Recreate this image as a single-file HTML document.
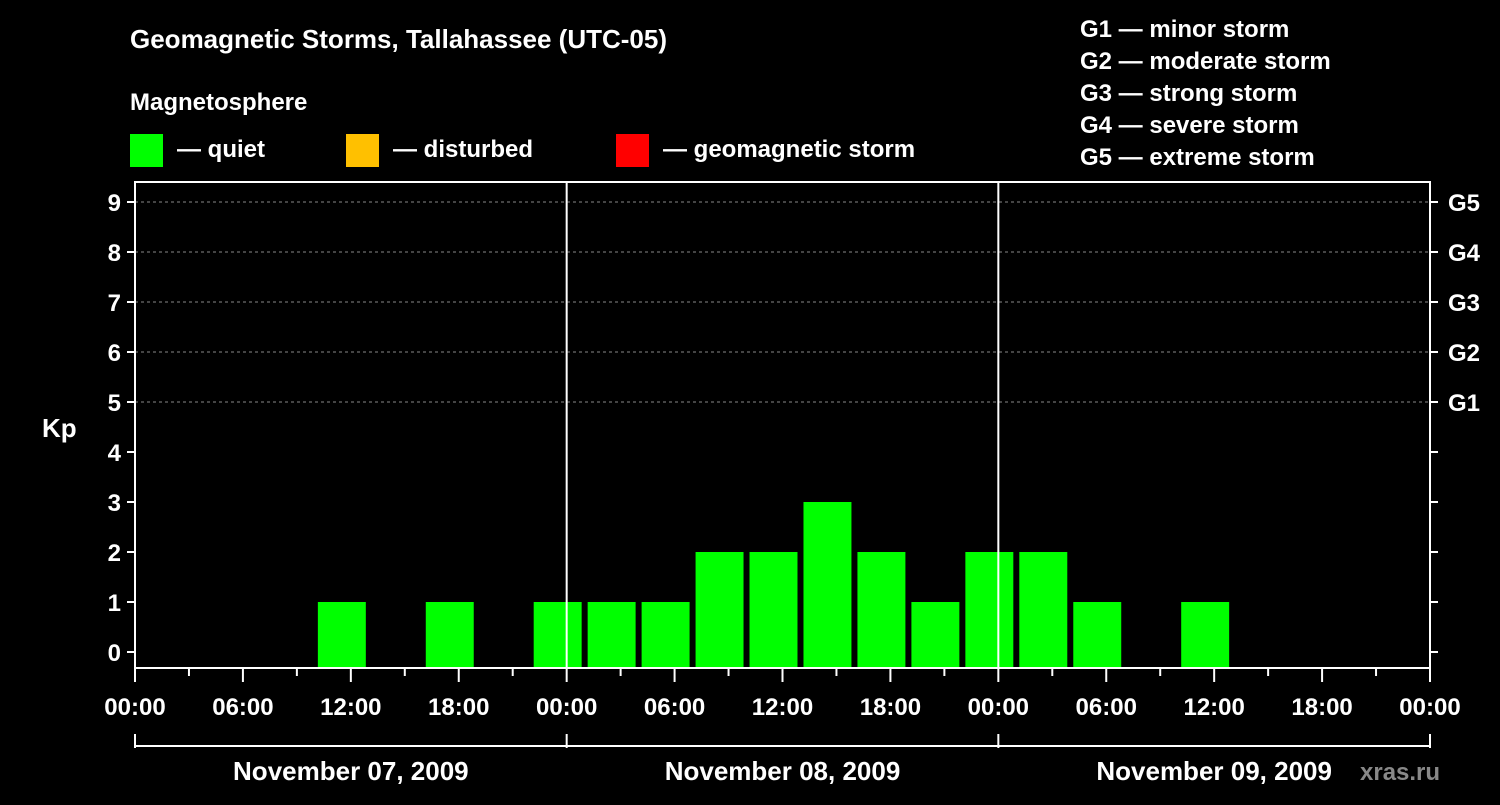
<!DOCTYPE html>
<html><head><meta charset="utf-8"><style>
body{margin:0;background:#000;width:1500px;height:800px;overflow:hidden}
text{font-family:"Liberation Sans",sans-serif;font-weight:bold;fill:#fff}
</style></head><body>
<svg id="c" width="1500" height="800">
<text x="130" y="48" font-size="26">Geomagnetic Storms, Tallahassee (UTC-05)</text>
<text x="130" y="110" font-size="24">Magnetosphere</text>
<rect x="130" y="134" width="33" height="33" fill="#00ff00"/>
<text x="177" y="157" font-size="24">— quiet</text>
<rect x="346" y="134" width="33" height="33" fill="#ffc000"/>
<text x="393" y="157" font-size="24">— disturbed</text>
<rect x="616" y="134" width="33" height="33" fill="#ff0000"/>
<text x="663" y="157" font-size="24">— geomagnetic storm</text>
<g font-size="24">
<text x="1080" y="37">G1 — minor storm</text>
<text x="1080" y="69">G2 — moderate storm</text>
<text x="1080" y="101">G3 — strong storm</text>
<text x="1080" y="133">G4 — severe storm</text>
<text x="1080" y="165">G5 — extreme storm</text>
</g>
<text x="42" y="437" font-size="26">Kp</text>
<text x="1360" y="780" font-size="24" fill="#888" style="fill:#888">xras.ru</text>
<g id="plot"></g>
</svg>
<script>
const kpValues=[0,0,0,1,0,1,0,1,1,1,2,2,3,2,1,2,2,1,0,1,0,0,0];
const slotStartHours=[1,4,7,10,13,16,19,22,25,28,31,34,37,40,43,46,49,52,55,58,61,64,67];
const hourLabels=["00:00","06:00","12:00","18:00"];
const dayLabels=["November 07, 2009","November 08, 2009","November 09, 2009"];
const gLabels=["G1","G2","G3","G4","G5"];
const NS="http://www.w3.org/2000/svg";
const L=135,R=1430,T=182,B=668;
const xS=h=>L+h*(R-L)/72;
const yS=v=>652-v*50;
const g=document.getElementById('plot');
function mk(tag,a,p){const e=document.createElementNS(NS,tag);for(const k in a)e.setAttribute(k,a[k]);(p||g).appendChild(e);return e;}
// grid
for(let v=5;v<=9;v++){const l=mk('line',{x1:L,x2:R,y1:yS(v),y2:yS(v),stroke:'#888','stroke-dasharray':'3,3'});

}
// bars
kpValues.forEach((v,i)=>{if(v<=0)return;const h=slotStartHours[i];
const x0=Math.max(xS(h),L)+3,x1=Math.min(xS(h+3),R)-3;
const r=mk('rect',{x:x0,y:yS(v),width:x1-x0,height:B-yS(v),fill:v>=5?'#ff0000':v>=4?'#ffc000':'#00ff00'});

});
// frame
const f=mk('rect',{x:L,y:T,width:R-L,height:B-T,fill:'none',stroke:'#fff','stroke-width':2});


for(let d=1;d<3;d++){const l=mk('line',{x1:xS(d*24),x2:xS(d*24),y1:T,y2:B,stroke:'#fff','stroke-width':2});

}
// y ticks
for(let v=0;v<=9;v++){
mk('line',{x1:L-8,x2:L,y1:yS(v),y2:yS(v),stroke:'#fff','stroke-width':2});
mk('line',{x1:R,x2:R+8,y1:yS(v),y2:yS(v),stroke:'#fff','stroke-width':2});
const t=mk('text',{x:L-14,y:yS(v)+9,'font-size':24,'text-anchor':'end'});t.textContent=v;


if(v>=5){const gt=mk('text',{x:R+18,y:yS(v)+9,'font-size':24});gt.textContent=gLabels[v-5];

}}
// x ticks
for(let h=0;h<=72;h+=3){mk('line',{x1:xS(h),x2:xS(h),y1:B,y2:B+(h%6?8:14),stroke:'#fff','stroke-width':2});
if(h%6===0){const t=mk('text',{x:xS(h),y:715,'font-size':24,'text-anchor':'middle'});t.textContent=hourLabels[(h/6)%4];

}}
// day brackets
mk('line',{x1:L,x2:R,y1:746,y2:746,stroke:'#fff','stroke-width':2});
for(let d=0;d<=3;d++)mk('line',{x1:xS(d*24),x2:xS(d*24),y1:734,y2:748,stroke:'#fff','stroke-width':2});
dayLabels.forEach((s,d)=>{const t=mk('text',{x:xS(d*24+12),y:780,'font-size':26,'text-anchor':'middle'});t.textContent=s;

});
</script>
</body></html>
